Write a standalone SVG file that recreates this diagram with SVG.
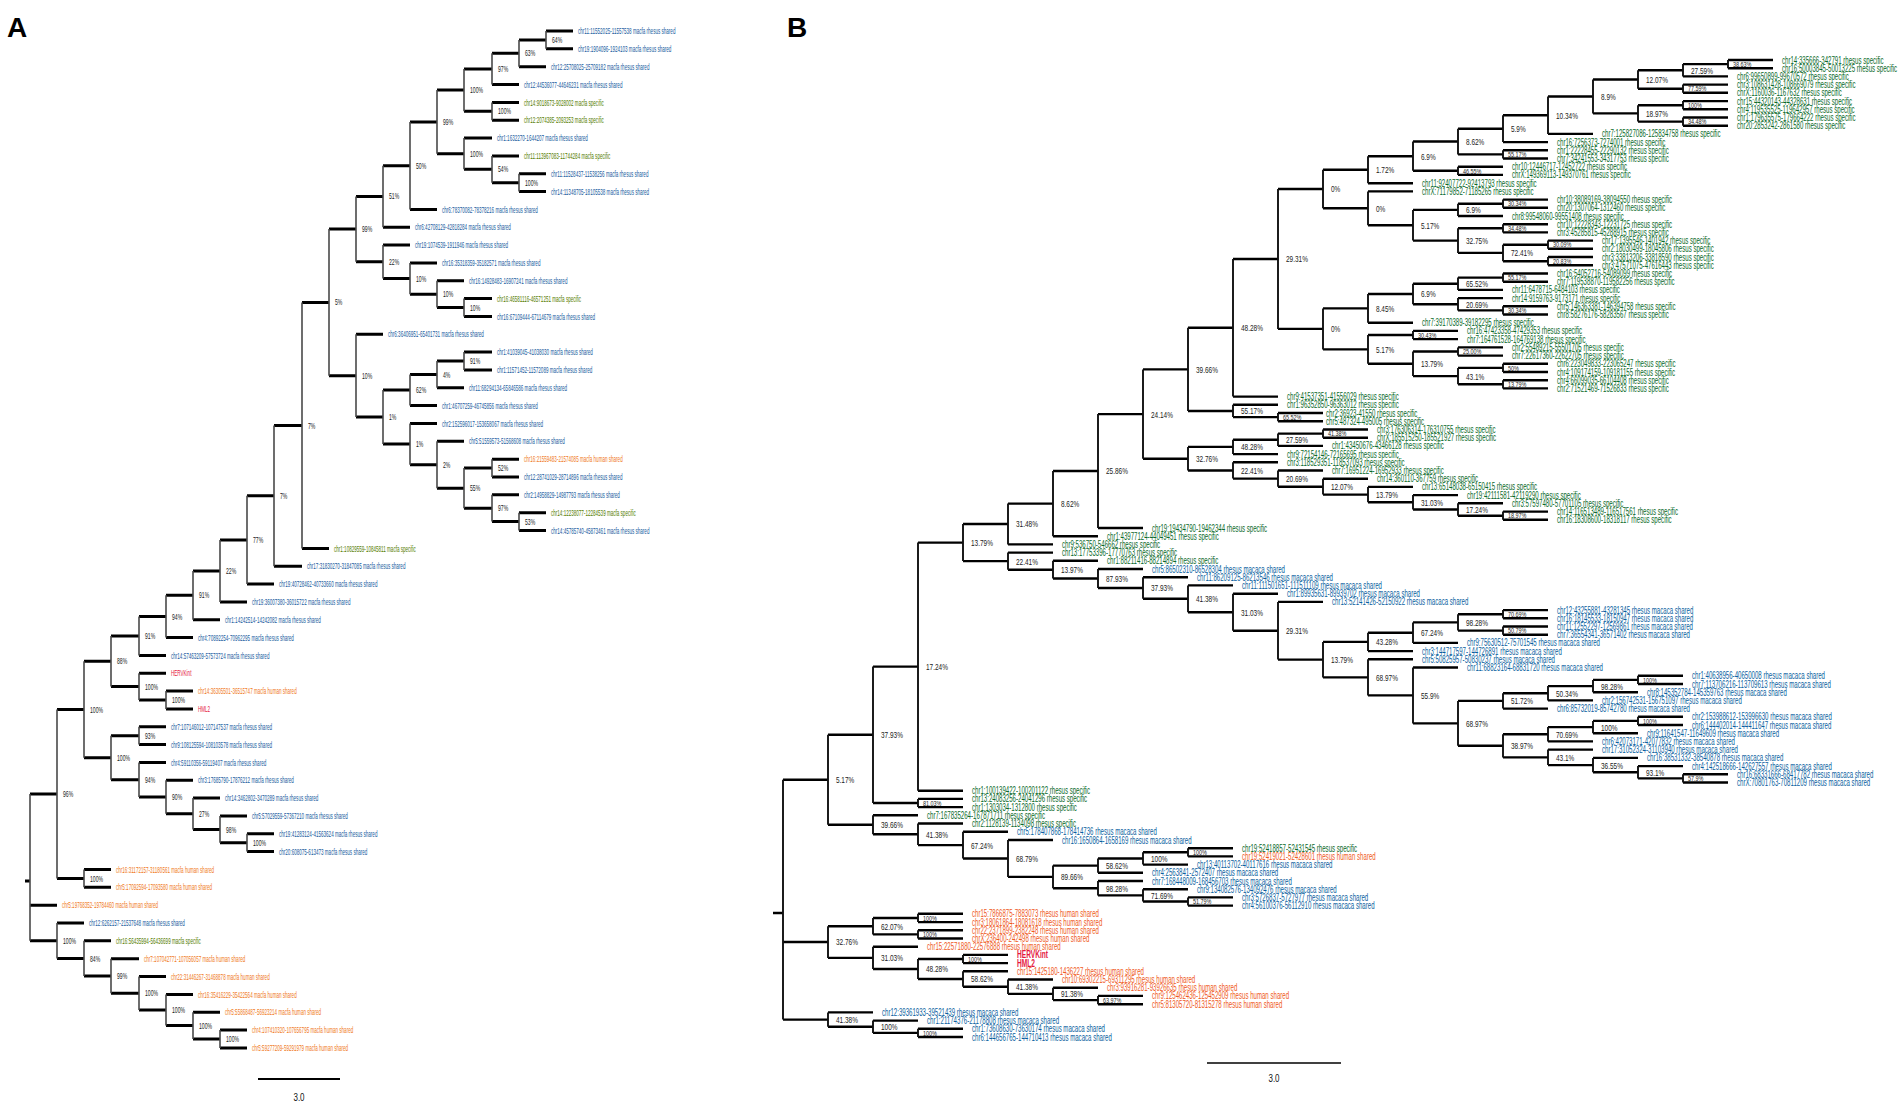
<svg xmlns="http://www.w3.org/2000/svg" width="1904" height="1104" viewBox="0 0 1904 1104">
<style>
text{font-family:"Liberation Sans",Arial,Helvetica,sans-serif;transform-box:fill-box;transform-origin:0 50%}
.big{font-size:28px;font-weight:bold;fill:#000;transform:none}
.sc{font-size:10px;fill:#111;transform:scaleX(.8);text-anchor:middle;transform-origin:50% 50%}
.ta{font-size:9.5px;transform:scaleX(.48)}
.pa{font-size:8.5px;fill:#222;transform:scaleX(.6)}
.tb{font-size:10px;transform:scaleX(.61)}
.pb{font-size:9.5px;fill:#222;transform:scaleX(.68)}
.px{font-size:8px;fill:#222;transform:scaleX(.68)}
.ba{fill:#1a5c9e}.ga{fill:#557c00}.oa{fill:#f07a1e}.r{fill:#e5173f}
.gb{fill:#0a6a2a}.bb{fill:#0b5fa0}.ob{fill:#ef5a1d}
.rb{font-size:10px;font-weight:bold;transform:scaleX(.66)}
.ha{fill:none;stroke:#000;stroke-width:3}
.va{fill:none;stroke:#4a4a4a;stroke-width:1.6}
.hb{fill:none;stroke:#000;stroke-width:2.4}
.vb{fill:none;stroke:#111;stroke-width:1.9}
.bar{fill:none;stroke:#000;stroke-width:2}
</style>
<rect width="1904" height="1104" fill="#fff"/>
<text class="big" x="7" y="37">A</text>
<text class="big" x="787" y="37">B</text>

<g id="A-connectors">
<path class="ha" d="M546 31H573M546 48.8H573M519 66.7H546M492 84.5H519M492 102.4H519M492 120.2H519M464 138H492M492 155.9H519M519 173.7H546M519 191.6H546M410 209.4H437M383 227.2H410M383 245.1H410M410 262.9H437M437 280.8H464M464 298.6H492M464 316.4H492M356 334.3H383M464 352.1H492M464 370H492M437 387.8H464M410 405.6H437M410 423.5H437M437 441.3H464M492 459.2H519M492 477H519M492 494.8H519M519 512.7H546M519 530.5H546M302 548.4H329M274 566.2H302M247 584H274M220 601.9H247M193 619.7H220M166 637.6H193M139 655.4H166M139 673.2H166M166 691.1H193M166 708.9H193M139 726.8H166M139 744.6H166M139 762.4H166M166 780.3H193M193 798.1H220M220 816H247M247 833.8H274M247 851.6H274M84 869.5H111M84 887.3H111M30 905.2H57M57 923H84M84 940.8H111M111 958.7H139M139 976.5H166M166 994.4H193M193 1012.2H220M220 1030H247M220 1047.9H247
M519 39.9H546M492 53.3H519M464 68.9H492M464 111.3H492M437 90.1H464M492 182.7H519M464 169.3H492M437 153.7H464M410 121.9H437M383 165.7H410M356 196.4H383M437 307.5H464M410 294.2H437M383 278.5H410M356 261.8H383M329 229.1H356M437 361.1H464M410 374.4H437M383 390H410M464 468.1H492M492 521.6H519M464 508.2H492M437 488.2H464M410 464.7H437M383 444.1H410M356 417.1H383M329 375.7H356M302 302.4H329M274 425.4H302M247 495.8H274M220 539.9H247M193 570.9H220M166 595.3H193M139 616.5H166M111 635.9H139M139 700H166M111 686.6H139M84 661.3H111M111 735.7H139M220 842.7H247M193 829.4H220M166 813.7H193M139 797H166M111 779.7H139M84 757.7H111M57 709.5H84M57 878.4H84M30 794H57M193 1039H220M166 1025.6H193M139 1010H166M111 993.3H139M84 976H111M57 958.4H84M30 940.7H57M25 881H30"/>
<path class="va" d="M546 31V48.8M519 39.9V66.7M492 53.3V84.5M492 102.4V120.2M464 68.9V111.3M519 173.7V191.6M492 155.9V182.7M464 138V169.3M437 90.1V153.7M410 121.9V209.4M383 165.7V227.2M464 298.6V316.4M437 280.8V307.5M410 262.9V294.2M383 245.1V278.5M356 196.4V261.8M464 352.1V370M437 361.1V387.8M410 374.4V405.6M492 459.2V477M519 512.7V530.5M492 494.8V521.6M464 468.1V508.2M437 441.3V488.2M410 423.5V464.7M383 390V444.1M356 334.3V417.1M329 229.1V375.7M302 302.4V548.4M274 425.4V566.2M247 495.8V584M220 539.9V601.9M193 570.9V619.7M166 595.3V637.6M139 616.5V655.4M166 691.1V708.9M139 673.2V700M111 635.9V686.6M139 726.8V744.6M247 833.8V851.6M220 816V842.7M193 798.1V829.4M166 780.3V813.7M139 762.4V797M111 735.7V779.7M84 661.3V757.7M84 869.5V887.3M57 709.5V878.4M220 1030V1047.9M193 1012.2V1039M166 994.4V1025.6M139 976.5V1010M111 958.7V993.3M84 940.8V976M57 923V958.4M30 794V940.7"/>
<path class="bar" d="M258 1079H340"/>
</g>
<text class="sc" x="299" y="1101">3.0</text>

<g id="A-nodes">
<g id="A-n1"><text class="pa" x="552" y="43">64%</text></g>
<g id="A-n2"><text class="pa" x="525" y="56">63%</text></g>
<g id="A-n3"><text class="pa" x="498" y="72">97%</text></g>
<g id="A-n4"><text class="pa" x="498" y="114">100%</text></g>
<g id="A-n5"><text class="pa" x="470" y="93">100%</text></g>
<g id="A-n6"><text class="pa" x="525" y="186">100%</text></g>
<g id="A-n7"><text class="pa" x="498" y="172">54%</text></g>
<g id="A-n8"><text class="pa" x="470" y="157">100%</text></g>
<g id="A-n9"><text class="pa" x="443" y="125">99%</text></g>
<g id="A-n10"><text class="pa" x="416" y="169">50%</text></g>
<g id="A-n11"><text class="pa" x="389" y="199">51%</text></g>
<g id="A-n12"><text class="pa" x="470" y="311">10%</text></g>
<g id="A-n13"><text class="pa" x="443" y="297">10%</text></g>
<g id="A-n14"><text class="pa" x="416" y="282">10%</text></g>
<g id="A-n15"><text class="pa" x="389" y="265">22%</text></g>
<g id="A-n16"><text class="pa" x="362" y="232">99%</text></g>
<g id="A-n17"><text class="pa" x="470" y="364">91%</text></g>
<g id="A-n18"><text class="pa" x="443" y="378">4%</text></g>
<g id="A-n19"><text class="pa" x="416" y="393">62%</text></g>
<g id="A-n20"><text class="pa" x="498" y="471">52%</text></g>
<g id="A-n21"><text class="pa" x="525" y="525">53%</text></g>
<g id="A-n22"><text class="pa" x="498" y="511">97%</text></g>
<g id="A-n23"><text class="pa" x="470" y="491">55%</text></g>
<g id="A-n24"><text class="pa" x="443" y="468">2%</text></g>
<g id="A-n25"><text class="pa" x="416" y="447">1%</text></g>
<g id="A-n26"><text class="pa" x="389" y="420">1%</text></g>
<g id="A-n27"><text class="pa" x="362" y="379">10%</text></g>
<g id="A-n28"><text class="pa" x="335" y="305">5%</text></g>
<g id="A-n29"><text class="pa" x="308" y="429">7%</text></g>
<g id="A-n30"><text class="pa" x="280" y="499">7%</text></g>
<g id="A-n31"><text class="pa" x="253" y="543">77%</text></g>
<g id="A-n32"><text class="pa" x="226" y="574">22%</text></g>
<g id="A-n33"><text class="pa" x="199" y="598">91%</text></g>
<g id="A-n34"><text class="pa" x="172" y="620">94%</text></g>
<g id="A-n35"><text class="pa" x="145" y="639">91%</text></g>
<g id="A-n36"><text class="pa" x="172" y="703">100%</text></g>
<g id="A-n37"><text class="pa" x="145" y="690">100%</text></g>
<g id="A-n38"><text class="pa" x="117" y="664">88%</text></g>
<g id="A-n39"><text class="pa" x="145" y="739">93%</text></g>
<g id="A-n40"><text class="pa" x="253" y="846">100%</text></g>
<g id="A-n41"><text class="pa" x="226" y="833">98%</text></g>
<g id="A-n42"><text class="pa" x="199" y="817">27%</text></g>
<g id="A-n43"><text class="pa" x="172" y="800">90%</text></g>
<g id="A-n44"><text class="pa" x="145" y="783">94%</text></g>
<g id="A-n45"><text class="pa" x="117" y="761">100%</text></g>
<g id="A-n46"><text class="pa" x="90" y="713">100%</text></g>
<g id="A-n47"><text class="pa" x="90" y="882">100%</text></g>
<g id="A-n48"><text class="pa" x="63" y="797">96%</text></g>
<g id="A-n49"><text class="pa" x="226" y="1042">100%</text></g>
<g id="A-n50"><text class="pa" x="199" y="1029">100%</text></g>
<g id="A-n51"><text class="pa" x="172" y="1013">100%</text></g>
<g id="A-n52"><text class="pa" x="145" y="996">100%</text></g>
<g id="A-n53"><text class="pa" x="117" y="979">99%</text></g>
<g id="A-n54"><text class="pa" x="90" y="962">84%</text></g>
<g id="A-n55"><text class="pa" x="63" y="944">100%</text></g>
</g>

<g id="A-leaves">
<g id="A-L0"><text class="ta ba" x="578" y="34.2">chr11:11552025-11557538 macfa rhesus shared</text></g>
<g id="A-L1"><text class="ta ba" x="578" y="52">chr19:1904096-1924103 macfa rhesus shared</text></g>
<g id="A-L2"><text class="ta ba" x="551" y="69.9">chr12:25708025-25709182 macfa rhesus shared</text></g>
<g id="A-L3"><text class="ta ba" x="524" y="87.7">chr12:44536077-44646231 macfa rhesus shared</text></g>
<g id="A-L4"><text class="ta ga" x="524" y="105.6">chr14:9018673-9028002 macfa specific</text></g>
<g id="A-L5"><text class="ta ga" x="524" y="123.4">chr12:2074385-2093253 macfa specific</text></g>
<g id="A-L6"><text class="ta ba" x="497" y="141.2">chr1:1632270-1644207 macfa rhesus shared</text></g>
<g id="A-L7"><text class="ta ga" x="524" y="159.1">chr11:113967083-11744284 macfa specific</text></g>
<g id="A-L8"><text class="ta ba" x="551" y="176.9">chr11:11528437-11538256 macfa rhesus shared</text></g>
<g id="A-L9"><text class="ta ba" x="551" y="194.8">chr14:11348705-18105538 macfa rhesus shared</text></g>
<g id="A-L10"><text class="ta ba" x="442" y="212.6">chr6:78370082-78378216 macfa rhesus shared</text></g>
<g id="A-L11"><text class="ta ba" x="415" y="230.4">chr6:42708129-42818284 macfa rhesus shared</text></g>
<g id="A-L12"><text class="ta ba" x="415" y="248.3">chr19:1074539-1911946 macfa rhesus shared</text></g>
<g id="A-L13"><text class="ta ba" x="442" y="266.1">chr16:35318359-35182571 macfa rhesus shared</text></g>
<g id="A-L14"><text class="ta ba" x="469" y="284">chr16:14928483-16907241 macfa rhesus shared</text></g>
<g id="A-L15"><text class="ta ga" x="497" y="301.8">chr16:46581116-46571251 macfa specific</text></g>
<g id="A-L16"><text class="ta ba" x="497" y="319.6">chr16:67109444-67114679 macfa rhesus shared</text></g>
<g id="A-L17"><text class="ta ba" x="388" y="337.5">chr6:36406951-65401731 macfa rhesus shared</text></g>
<g id="A-L18"><text class="ta ba" x="497" y="355.3">chr1:41039045-41038030 macfa rhesus shared</text></g>
<g id="A-L19"><text class="ta ba" x="497" y="373.2">chr1:11571452-11572089 macfa rhesus shared</text></g>
<g id="A-L20"><text class="ta ba" x="469" y="391">chr11:68294134-65846586 macfa rhesus shared</text></g>
<g id="A-L21"><text class="ta ba" x="442" y="408.8">chr1:46707259-46745856 macfa rhesus shared</text></g>
<g id="A-L22"><text class="ta ba" x="442" y="426.7">chr2:152596017-153658067 macfa rhesus shared</text></g>
<g id="A-L23"><text class="ta ba" x="469" y="444.5">chr5:51559573-51568608 macfa rhesus shared</text></g>
<g id="A-L24"><text class="ta oa" x="524" y="462.4">chr16:21559483-21574085 macfa human shared</text></g>
<g id="A-L25"><text class="ta ba" x="524" y="480.2">chr12:28741029-28714896 macfa rhesus shared</text></g>
<g id="A-L26"><text class="ta ba" x="524" y="498">chr2:14958829-14987793 macfa rhesus shared</text></g>
<g id="A-L27"><text class="ta ga" x="551" y="515.9">chr14:12238077-12284539 macfa specific</text></g>
<g id="A-L28"><text class="ta ba" x="551" y="533.7">chr14:45785740-45873461 macfa rhesus shared</text></g>
<g id="A-L29"><text class="ta ga" x="334" y="551.6">chr1:10829559-10845811 macfa specific</text></g>
<g id="A-L30"><text class="ta ba" x="307" y="569.4">chr17:31830270-31847085 macfa rhesus shared</text></g>
<g id="A-L31"><text class="ta ba" x="279" y="587.2">chr19:40728462-40733660 macfa rhesus shared</text></g>
<g id="A-L32"><text class="ta ba" x="252" y="605.1">chr19:36007380-36015722 macfa rhesus shared</text></g>
<g id="A-L33"><text class="ta ba" x="225" y="622.9">chr1:14242514-14242082 macfa rhesus shared</text></g>
<g id="A-L34"><text class="ta ba" x="198" y="640.8">chr4:70892254-70962295 macfa rhesus shared</text></g>
<g id="A-L35"><text class="ta ba" x="171" y="658.6">chr14:57463209-57573724 macfa rhesus shared</text></g>
<g id="A-L36"><text class="ta r" x="171" y="676.4">HERVKint</text></g>
<g id="A-L37"><text class="ta oa" x="198" y="694.3">chr14:36305501-36515747 macfa human shared</text></g>
<g id="A-L38"><text class="ta r" x="198" y="712.1">HML2</text></g>
<g id="A-L39"><text class="ta ba" x="171" y="730">chr7:107146012-107147537 macfa rhesus shared</text></g>
<g id="A-L40"><text class="ta ba" x="171" y="747.8">chr9:108125594-108103578 macfa rhesus shared</text></g>
<g id="A-L41"><text class="ta ba" x="171" y="765.6">chr4:59110356-59119407 macfa rhesus shared</text></g>
<g id="A-L42"><text class="ta ba" x="198" y="783.5">chr3:17685790-17876212 macfa rhesus shared</text></g>
<g id="A-L43"><text class="ta ba" x="225" y="801.3">chr14:3462802-3470289 macfa rhesus shared</text></g>
<g id="A-L44"><text class="ta ba" x="252" y="819.2">chr5:57029559-57367210 macfa rhesus shared</text></g>
<g id="A-L45"><text class="ta ba" x="279" y="837">chr19:41283124-41563624 macfa rhesus shared</text></g>
<g id="A-L46"><text class="ta ba" x="279" y="854.8">chr20:608075-613473 macfa rhesus shared</text></g>
<g id="A-L47"><text class="ta oa" x="116" y="872.7">chr16:31172157-31180561 macfa human shared</text></g>
<g id="A-L48"><text class="ta oa" x="116" y="890.5">chr5:17092594-17093580 macfa human shared</text></g>
<g id="A-L49"><text class="ta oa" x="62" y="908.4">chr5:19768352-19784460 macfa human shared</text></g>
<g id="A-L50"><text class="ta ba" x="89" y="926.2">chr12:6262157-21537648 macfa rhesus shared</text></g>
<g id="A-L51"><text class="ta ga" x="116" y="944">chr16:56435994-56436699 macfa specific</text></g>
<g id="A-L52"><text class="ta oa" x="144" y="961.9">chr7:107042771-107056057 macfa human shared</text></g>
<g id="A-L53"><text class="ta oa" x="171" y="979.7">chr22:31446267-31468878 macfa human shared</text></g>
<g id="A-L54"><text class="ta oa" x="198" y="997.6">chr16:35416229-35422564 macfa human shared</text></g>
<g id="A-L55"><text class="ta oa" x="225" y="1015.4">chr5:55868487-56923214 macfa human shared</text></g>
<g id="A-L56"><text class="ta oa" x="252" y="1033.2">chr4:107410320-107656795 macfa human shared</text></g>
<g id="A-L57"><text class="ta oa" x="252" y="1051.1">chr5:59277209-59291979 macfa human shared</text></g>
</g>

<g id="B-connectors">
<path class="hb" d="M1728 60H1773M1728 68.2H1773M1683 76.4H1728M1683 84.6H1728M1683 92.8H1728M1683 101.1H1728M1683 109.3H1728M1683 117.5H1728M1683 125.7H1728M1548 133.9H1593M1503 142.1H1548M1503 150.3H1548M1503 158.5H1548M1458 166.7H1503M1458 174.9H1503M1368 183.2H1413M1368 191.4H1413M1503 199.6H1548M1503 207.8H1548M1458 216H1503M1503 224.2H1548M1503 232.4H1548M1548 240.6H1593M1548 248.8H1593M1548 257H1593M1548 265.3H1593M1503 273.5H1548M1503 281.7H1548M1458 289.9H1503M1458 298.1H1503M1503 306.3H1548M1503 314.5H1548M1368 322.7H1413M1413 330.9H1458M1413 339.1H1458M1458 347.4H1503M1458 355.6H1503M1503 363.8H1548M1503 372H1548M1503 380.2H1548M1503 388.4H1548M1233 396.6H1278M1233 404.8H1278M1278 413H1323M1278 421.2H1323M1323 429.5H1368M1323 437.7H1368M1278 445.9H1323M1233 454.1H1278M1233 462.3H1278M1278 470.5H1323M1323 478.7H1368M1368 486.9H1413M1413 495.1H1458M1458 503.3H1503M1503 511.6H1548M1503 519.8H1548M1098 528H1143M1053 536.2H1098M1008 544.4H1053M1008 552.6H1053M1053 560.8H1098M1098 569H1143M1143 577.2H1188M1188 585.4H1233M1233 593.7H1278M1278 601.9H1323M1503 610.1H1548M1503 618.3H1548M1503 626.5H1548M1503 634.7H1548M1413 642.9H1458M1368 651.1H1413M1368 659.3H1413M1413 667.5H1458M1638 675.8H1683M1638 684H1683M1593 692.2H1638M1548 700.4H1593M1503 708.6H1548M1638 716.8H1683M1638 725H1683M1593 733.2H1638M1548 741.4H1593M1548 749.6H1593M1593 757.9H1638M1638 766.1H1683M1683 774.3H1728M1683 782.5H1728M918 790.7H963M918 798.9H963M918 807.1H963M873 815.3H918M918 823.5H963M963 831.7H1008M1008 840H1053M1188 848.2H1233M1188 856.4H1233M1143 864.6H1188M1098 872.8H1143M1098 881H1143M1143 889.2H1188M1188 897.4H1233M1188 905.6H1233M918 913.8H963M918 922.1H963M918 930.3H963M918 938.5H963M873 946.7H918M963 954.9H1008M963 963.1H1008M963 971.3H1008M1008 979.5H1053M1053 987.7H1098M1098 995.9H1143M1098 1004.2H1143M828 1012.4H873M873 1020.6H918M918 1028.8H963M918 1037H963
M1683 64.1H1728M1638 70.3H1683M1638 88.7H1683M1593 79.5H1638M1638 105.2H1683M1638 121.6H1683M1593 113.4H1638M1548 96.5H1593M1503 115.2H1548M1458 128.7H1503M1458 154.4H1503M1413 141.5H1458M1413 170.8H1458M1368 156.2H1413M1323 169.7H1368M1323 208.3H1368M1368 225.2H1413M1413 209.9H1458M1458 203.7H1503M1413 240.6H1458M1458 228.3H1503M1458 252.9H1503M1503 244.7H1548M1503 261.2H1548M1278 189H1323M1323 308.4H1368M1368 294H1413M1413 283.8H1458M1458 277.6H1503M1413 304.3H1458M1458 310.4H1503M1323 349.4H1368M1368 335H1413M1368 363.8H1413M1413 351.5H1458M1413 376.1H1458M1458 367.9H1503M1458 384.3H1503M1278 328.9H1323M1233 259H1278M1188 327.8H1233M1188 411H1233M1233 417.1H1278M1143 369.4H1188M1188 446.9H1233M1233 439.8H1278M1278 433.6H1323M1188 470.5H1233M1233 478.6H1278M1278 486.7H1323M1323 494.6H1368M1368 502.3H1413M1413 509.5H1458M1458 515.7H1503M1143 458.7H1188M1098 414.1H1143M1053 471H1098M1008 503.6H1053M963 524H1008M963 561.1H1008M1008 569.7H1053M1053 578.5H1098M1098 588H1143M1143 598.8H1188M1188 612.2H1233M1233 630.8H1278M1278 659.6H1323M1323 641.9H1368M1368 632.7H1413M1413 622.4H1458M1458 614.2H1503M1458 630.6H1503M1323 677.4H1368M1368 695.4H1413M1413 723.4H1458M1458 700.9H1503M1503 693.2H1548M1548 686.1H1593M1593 679.9H1638M1458 745.8H1503M1503 734.2H1548M1548 727.1H1593M1593 720.9H1638M1503 757.4H1548M1548 765.1H1593M1593 772.3H1638M1638 778.4H1683M918 542.6H963M873 666.6H918M873 803H918M828 734.8H873M828 824.8H873M873 834.3H918M918 845.1H963M963 858.5H1008M1008 876.9H1053M1053 865.6H1098M1098 858.5H1143M1143 852.3H1188M1053 888.2H1098M1098 895.4H1143M1143 901.5H1188M783 779.8H828M828 926.2H873M873 918H918M873 934.4H918M828 957.9H873M873 969H918M918 959H963M918 979H963M963 986.7H1008M1008 993.9H1053M1053 1000.1H1098M783 942H828M783 1019.6H828M828 1026.8H873M873 1032.9H918M773 913H783"/>
<path class="vb" d="M1728 60V68.2M1683 64.1V76.4M1683 84.6V92.8M1638 70.3V88.7M1683 101.1V109.3M1683 117.5V125.7M1638 105.2V121.6M1593 79.5V113.4M1548 96.5V133.9M1503 115.2V142.1M1503 150.3V158.5M1458 128.7V154.4M1458 166.7V174.9M1413 141.5V170.8M1368 156.2V183.2M1503 199.6V207.8M1458 203.7V216M1503 224.2V232.4M1548 240.6V248.8M1548 257V265.3M1503 244.7V261.2M1458 228.3V252.9M1413 209.9V240.6M1368 191.4V225.2M1323 169.7V208.3M1503 273.5V281.7M1458 277.6V289.9M1503 306.3V314.5M1458 298.1V310.4M1413 283.8V304.3M1368 294V322.7M1413 330.9V339.1M1458 347.4V355.6M1503 363.8V372M1503 380.2V388.4M1458 367.9V384.3M1413 351.5V376.1M1368 335V363.8M1323 308.4V349.4M1278 189V328.9M1233 259V396.6M1278 413V421.2M1233 404.8V417.1M1188 327.8V411M1323 429.5V437.7M1278 433.6V445.9M1233 439.8V454.1M1503 511.6V519.8M1458 503.3V515.7M1413 495.1V509.5M1368 486.9V502.3M1323 478.7V494.6M1278 470.5V486.7M1233 462.3V478.6M1188 446.9V470.5M1143 369.4V458.7M1098 414.1V528M1053 471V536.2M1008 503.6V544.4M1503 610.1V618.3M1503 626.5V634.7M1458 614.2V630.6M1413 622.4V642.9M1368 632.7V651.1M1638 675.8V684M1593 679.9V692.2M1548 686.1V700.4M1503 693.2V708.6M1638 716.8V725M1593 720.9V733.2M1548 727.1V741.4M1683 774.3V782.5M1638 766.1V778.4M1593 757.9V772.3M1548 749.6V765.1M1503 734.2V757.4M1458 700.9V745.8M1413 667.5V723.4M1368 659.3V695.4M1323 641.9V677.4M1278 601.9V659.6M1233 593.7V630.8M1188 585.4V612.2M1143 577.2V598.8M1098 569V588M1053 560.8V578.5M1008 552.6V569.7M963 524V561.1M918 542.6V790.7M918 798.9V807.1M873 666.6V803M1188 848.2V856.4M1143 852.3V864.6M1098 858.5V872.8M1188 897.4V905.6M1143 889.2V901.5M1098 881V895.4M1053 865.6V888.2M1008 840V876.9M963 831.7V858.5M918 823.5V845.1M873 815.3V834.3M828 734.8V824.8M918 913.8V922.1M918 930.3V938.5M873 918V934.4M963 954.9V963.1M1098 995.9V1004.2M1053 987.7V1000.1M1008 979.5V993.9M963 971.3V986.7M918 959V979M873 946.7V969M828 926.2V957.9M918 1028.8V1037M873 1020.6V1032.9M828 1012.4V1026.8M783 779.8V1019.6"/>
<path class="bar" d="M1207 1063H1341" style="stroke-width:1.5"/>
</g>
<text class="sc" x="1274" y="1082">3.0</text>

<g id="B-nodes">
<g id="B-na"><text class="px" x="1733" y="66.9">38.63%</text></g>
<g id="B-nb"><text class="pb" x="1691" y="73.8">27.59%</text></g>
<g id="B-nc"><text class="px" x="1688" y="91.5">77.59%</text></g>
<g id="B-nd"><text class="pb" x="1646" y="83">12.07%</text></g>
<g id="B-ne"><text class="px" x="1688" y="108">100%</text></g>
<g id="B-nf"><text class="px" x="1688" y="124.4">34.48%</text></g>
<g id="B-ng"><text class="pb" x="1646" y="116.9">18.97%</text></g>
<g id="B-nh"><text class="pb" x="1601" y="100">8.9%</text></g>
<g id="B-ni"><text class="pb" x="1556" y="118.7">10.34%</text></g>
<g id="B-nj"><text class="pb" x="1511" y="132.2">5.9%</text></g>
<g id="B-nk"><text class="px" x="1508" y="157.2">55.17%</text></g>
<g id="B-nl"><text class="pb" x="1466" y="145">8.62%</text></g>
<g id="B-nm"><text class="px" x="1463" y="173.6">46.55%</text></g>
<g id="B-nn"><text class="pb" x="1421" y="159.7">6.9%</text></g>
<g id="B-no"><text class="pb" x="1376" y="173.2">1.72%</text></g>
<g id="B-np"><text class="px" x="1508" y="206.5">30.34%</text></g>
<g id="B-nq"><text class="pb" x="1466" y="213.4">6.9%</text></g>
<g id="B-nr"><text class="px" x="1508" y="231.1">34.48%</text></g>
<g id="B-ns"><text class="px" x="1553" y="247.5">30.09%</text></g>
<g id="B-nt"><text class="px" x="1553" y="264">20.83%</text></g>
<g id="B-nu"><text class="pb" x="1511" y="256.4">72.41%</text></g>
<g id="B-nv"><text class="pb" x="1466" y="244.1">32.75%</text></g>
<g id="B-nw"><text class="pb" x="1421" y="228.7">5.17%</text></g>
<g id="B-nx"><text class="pb" x="1376" y="211.8">0%</text></g>
<g id="B-ny"><text class="pb" x="1331" y="192.5">0%</text></g>
<g id="B-nz"><text class="px" x="1508" y="280.4">55.17%</text></g>
<g id="B-naa"><text class="pb" x="1466" y="287.3">65.52%</text></g>
<g id="B-nab"><text class="px" x="1508" y="313.2">30.34%</text></g>
<g id="B-nac"><text class="pb" x="1466" y="307.8">20.69%</text></g>
<g id="B-nad"><text class="pb" x="1421" y="297.5">6.9%</text></g>
<g id="B-nae"><text class="pb" x="1376" y="311.9">8.45%</text></g>
<g id="B-naf"><text class="px" x="1418" y="337.8">30.43%</text></g>
<g id="B-nag"><text class="px" x="1463" y="354.3">25.00%</text></g>
<g id="B-nah"><text class="px" x="1508" y="370.7">50%</text></g>
<g id="B-nai"><text class="px" x="1508" y="387.1">13.79%</text></g>
<g id="B-naj"><text class="pb" x="1466" y="379.6">43.1%</text></g>
<g id="B-nak"><text class="pb" x="1421" y="367.3">13.79%</text></g>
<g id="B-nal"><text class="pb" x="1376" y="352.9">5.17%</text></g>
<g id="B-nam"><text class="pb" x="1331" y="332.4">0%</text></g>
<g id="B-nan"><text class="pb" x="1286" y="262.5">29.31%</text></g>
<g id="B-nao"><text class="pb" x="1241" y="331.3">48.28%</text></g>
<g id="B-nap"><text class="px" x="1283" y="419.9">65.52%</text></g>
<g id="B-naq"><text class="pb" x="1241" y="414.5">55.17%</text></g>
<g id="B-nar"><text class="pb" x="1196" y="372.9">39.66%</text></g>
<g id="B-nas"><text class="px" x="1328" y="436.4">41.38%</text></g>
<g id="B-nat"><text class="pb" x="1286" y="443.3">27.59%</text></g>
<g id="B-nau"><text class="pb" x="1241" y="450.4">48.28%</text></g>
<g id="B-nav"><text class="px" x="1508" y="518.5">18.97%</text></g>
<g id="B-naw"><text class="pb" x="1466" y="513">17.24%</text></g>
<g id="B-nax"><text class="pb" x="1421" y="505.8">31.03%</text></g>
<g id="B-nay"><text class="pb" x="1376" y="498.1">13.79%</text></g>
<g id="B-naz"><text class="pb" x="1331" y="490.2">12.07%</text></g>
<g id="B-nba"><text class="pb" x="1286" y="482.1">20.69%</text></g>
<g id="B-nbb"><text class="pb" x="1241" y="474">22.41%</text></g>
<g id="B-nbc"><text class="pb" x="1196" y="462.2">32.76%</text></g>
<g id="B-nbd"><text class="pb" x="1151" y="417.6">24.14%</text></g>
<g id="B-nbe"><text class="pb" x="1106" y="474.5">25.86%</text></g>
<g id="B-nbf"><text class="pb" x="1061" y="507.1">8.62%</text></g>
<g id="B-nbg"><text class="pb" x="1016" y="527.5">31.48%</text></g>
<g id="B-nci"><text class="pb" x="1016" y="564.6">22.41%</text></g>
<g id="B-nch"><text class="pb" x="1061" y="573.2">13.97%</text></g>
<g id="B-ncg"><text class="pb" x="1106" y="582">87.93%</text></g>
<g id="B-ncf"><text class="pb" x="1151" y="591.5">37.93%</text></g>
<g id="B-nce"><text class="pb" x="1196" y="602.3">41.38%</text></g>
<g id="B-ncd"><text class="pb" x="1241" y="615.7">31.03%</text></g>
<g id="B-ncc"><text class="pb" x="1286" y="634.3">29.31%</text></g>
<g id="B-ncb"><text class="pb" x="1331" y="663.1">13.79%</text></g>
<g id="B-nbl"><text class="pb" x="1376" y="645.4">43.28%</text></g>
<g id="B-nbk"><text class="pb" x="1421" y="636.2">67.24%</text></g>
<g id="B-nbj"><text class="pb" x="1466" y="625.9">98.28%</text></g>
<g id="B-nbh"><text class="px" x="1508" y="617">70.69%</text></g>
<g id="B-nbi"><text class="px" x="1508" y="633.4">50.79%</text></g>
<g id="B-nca"><text class="pb" x="1376" y="680.9">68.97%</text></g>
<g id="B-nbz"><text class="pb" x="1421" y="698.9">55.9%</text></g>
<g id="B-nby"><text class="pb" x="1466" y="726.9">68.97%</text></g>
<g id="B-nbp"><text class="pb" x="1511" y="704.4">51.72%</text></g>
<g id="B-nbo"><text class="pb" x="1556" y="696.7">50.34%</text></g>
<g id="B-nbn"><text class="pb" x="1601" y="689.6">98.28%</text></g>
<g id="B-nbm"><text class="px" x="1643" y="682.7">100%</text></g>
<g id="B-nbx"><text class="pb" x="1511" y="749.3">38.97%</text></g>
<g id="B-nbs"><text class="pb" x="1556" y="737.7">70.69%</text></g>
<g id="B-nbr"><text class="pb" x="1601" y="730.6">100%</text></g>
<g id="B-nbq"><text class="px" x="1643" y="723.7">100%</text></g>
<g id="B-nbw"><text class="pb" x="1556" y="760.9">43.1%</text></g>
<g id="B-nbv"><text class="pb" x="1601" y="768.6">36.55%</text></g>
<g id="B-nbu"><text class="pb" x="1646" y="775.8">93.1%</text></g>
<g id="B-nbt"><text class="px" x="1688" y="781.2">57.9%</text></g>
<g id="B-ncj"><text class="pb" x="971" y="546.1">13.79%</text></g>
<g id="B-nck"><text class="pb" x="926" y="670.1">17.24%</text></g>
<g id="B-ncl"><text class="px" x="923" y="805.8">81.03%</text></g>
<g id="B-ncm"><text class="pb" x="881" y="738.3">37.93%</text></g>
<g id="B-ncx"><text class="pb" x="881" y="828.3">39.66%</text></g>
<g id="B-ncw"><text class="pb" x="926" y="837.8">41.38%</text></g>
<g id="B-ncv"><text class="pb" x="971" y="848.6">67.24%</text></g>
<g id="B-ncu"><text class="pb" x="1016" y="862">68.79%</text></g>
<g id="B-nct"><text class="pb" x="1061" y="880.4">89.66%</text></g>
<g id="B-ncp"><text class="pb" x="1106" y="869.1">58.62%</text></g>
<g id="B-nco"><text class="pb" x="1151" y="862">100%</text></g>
<g id="B-ncn"><text class="px" x="1193" y="855.1">100%</text></g>
<g id="B-ncs"><text class="pb" x="1106" y="891.7">98.28%</text></g>
<g id="B-ncr"><text class="pb" x="1151" y="898.9">71.69%</text></g>
<g id="B-ncq"><text class="px" x="1193" y="904.3">51.79%</text></g>
<g id="B-ncy"><text class="pb" x="836" y="783.3">5.17%</text></g>
<g id="B-ndb"><text class="pb" x="881" y="929.7">62.07%</text></g>
<g id="B-ncz"><text class="px" x="923" y="920.8">100%</text></g>
<g id="B-nda"><text class="px" x="923" y="937.2">100%</text></g>
<g id="B-ndi"><text class="pb" x="881" y="961.4">31.03%</text></g>
<g id="B-ndh"><text class="pb" x="926" y="972.5">48.28%</text></g>
<g id="B-ndc"><text class="px" x="968" y="961.8">100%</text></g>
<g id="B-ndg"><text class="pb" x="971" y="982.5">58.62%</text></g>
<g id="B-ndf"><text class="pb" x="1016" y="990.2">41.38%</text></g>
<g id="B-nde"><text class="pb" x="1061" y="997.4">91.38%</text></g>
<g id="B-ndd"><text class="px" x="1103" y="1002.9">63.97%</text></g>
<g id="B-ndj"><text class="pb" x="836" y="945.5">32.76%</text></g>
<g id="B-ndm"><text class="pb" x="836" y="1023.1">41.38%</text></g>
<g id="B-ndl"><text class="pb" x="881" y="1030.3">100%</text></g>
<g id="B-ndk"><text class="px" x="923" y="1035.7">100%</text></g>
</g>

<g id="B-leaves">
<g id="B-L0"><text class="tb gb" x="1782" y="63.6">chr14:335666-342791 rhesus specific</text></g>
<g id="B-L1"><text class="tb gb" x="1782" y="71.8">chr16:50003845-50013225 rhesus specific</text></g>
<g id="B-L2"><text class="tb gb" x="1737" y="80">chr6:99650899-99670572 rhesus specific</text></g>
<g id="B-L3"><text class="tb gb" x="1737" y="88.2">chr3:108631428-108669079 rhesus specific</text></g>
<g id="B-L4"><text class="tb gb" x="1737" y="96.4">chrX:1160036-1167632 rhesus specific</text></g>
<g id="B-L5"><text class="tb gb" x="1737" y="104.7">chr15:44320143-44328631 rhesus specific</text></g>
<g id="B-L6"><text class="tb gb" x="1737" y="112.9">chr4:119535525-119642957 rhesus specific</text></g>
<g id="B-L7"><text class="tb gb" x="1737" y="121.1">chr1:179635575-179664222 rhesus specific</text></g>
<g id="B-L8"><text class="tb gb" x="1737" y="129.3">chr20:2853242-2861580 rhesus specific</text></g>
<g id="B-L9"><text class="tb gb" x="1602" y="137.5">chr7:125827086-125834758 rhesus specific</text></g>
<g id="B-L10"><text class="tb gb" x="1557" y="145.7">chr16:7256373-7274001 rhesus specific</text></g>
<g id="B-L11"><text class="tb gb" x="1557" y="153.9">chr1:22228455-22290132 rhesus specific</text></g>
<g id="B-L12"><text class="tb gb" x="1557" y="162.1">chr7:34241553-34317753 rhesus specific</text></g>
<g id="B-L13"><text class="tb gb" x="1512" y="170.3">chr10:12446717-12452722 rhesus specific</text></g>
<g id="B-L14"><text class="tb gb" x="1512" y="178.5">chrX:149369113-149370761 rhesus specific</text></g>
<g id="B-L15"><text class="tb gb" x="1422" y="186.8">chr11:92407722-92413793 rhesus specific</text></g>
<g id="B-L16"><text class="tb gb" x="1422" y="195">chrX:71179852-71185265 rhesus specific</text></g>
<g id="B-L17"><text class="tb gb" x="1557" y="203.2">chr10:38089169-38094550 rhesus specific</text></g>
<g id="B-L18"><text class="tb gb" x="1557" y="211.4">chr20:1307064-1312460 rhesus specific</text></g>
<g id="B-L19"><text class="tb gb" x="1512" y="219.6">chr8:99548060-99551408 rhesus specific</text></g>
<g id="B-L20"><text class="tb gb" x="1557" y="227.8">chr10:12228343-12231725 rhesus specific</text></g>
<g id="B-L21"><text class="tb gb" x="1557" y="236">chr3:45285815-45288915 rhesus specific</text></g>
<g id="B-L22"><text class="tb gb" x="1602" y="244.2">chr17:1395546-1401942 rhesus specific</text></g>
<g id="B-L23"><text class="tb gb" x="1602" y="252.4">chr2:18030499-18045806 rhesus specific</text></g>
<g id="B-L24"><text class="tb gb" x="1602" y="260.6">chr3:33813206-33818590 rhesus specific</text></g>
<g id="B-L25"><text class="tb gb" x="1602" y="268.9">chr3:47571075-47616443 rhesus specific</text></g>
<g id="B-L26"><text class="tb gb" x="1557" y="277.1">chr16:54052716-54089099 rhesus specific</text></g>
<g id="B-L27"><text class="tb gb" x="1557" y="285.3">chr7:119538870-119582256 rhesus specific</text></g>
<g id="B-L28"><text class="tb gb" x="1512" y="293.5">chr11:6478715-6484103 rhesus specific</text></g>
<g id="B-L29"><text class="tb gb" x="1512" y="301.7">chr14:9159763-9173171 rhesus specific</text></g>
<g id="B-L30"><text class="tb gb" x="1557" y="309.9">chr5:146363381-146394758 rhesus specific</text></g>
<g id="B-L31"><text class="tb gb" x="1557" y="318.1">chr8:58276176-58283567 rhesus specific</text></g>
<g id="B-L32"><text class="tb gb" x="1422" y="326.3">chr7:39170389-39182295 rhesus specific</text></g>
<g id="B-L33"><text class="tb gb" x="1467" y="334.5">chr16:47423358-47429353 rhesus specific</text></g>
<g id="B-L34"><text class="tb gb" x="1467" y="342.7">chr7:164761528-164769138 rhesus specific</text></g>
<g id="B-L35"><text class="tb gb" x="1512" y="351">chr2:55489215-55501705 rhesus specific</text></g>
<g id="B-L36"><text class="tb gb" x="1512" y="359.2">chr7:22617360-22622705 rhesus specific</text></g>
<g id="B-L37"><text class="tb gb" x="1557" y="367.4">chr6:223049833-223065247 rhesus specific</text></g>
<g id="B-L38"><text class="tb gb" x="1557" y="375.6">chr4:109174159-109181155 rhesus specific</text></g>
<g id="B-L39"><text class="tb gb" x="1557" y="383.8">chr4:66099035-66104408 rhesus specific</text></g>
<g id="B-L40"><text class="tb gb" x="1557" y="392">chr2:71521469-71526833 rhesus specific</text></g>
<g id="B-L41"><text class="tb gb" x="1287" y="400.2">chr9:41537351-41556029 rhesus specific</text></g>
<g id="B-L42"><text class="tb gb" x="1287" y="408.4">chr1:96352850-96363012 rhesus specific</text></g>
<g id="B-L43"><text class="tb gb" x="1326" y="416.6">chr2:36923-41550 rhesus specific</text></g>
<g id="B-L44"><text class="tb gb" x="1326" y="424.8">chr5:487324-495005 rhesus specific</text></g>
<g id="B-L45"><text class="tb gb" x="1377" y="433.1">chr3:176306314-176310755 rhesus specific</text></g>
<g id="B-L46"><text class="tb gb" x="1377" y="441.3">chrX:185515250-185521927 rhesus specific</text></g>
<g id="B-L47"><text class="tb gb" x="1332" y="449.5">chr1:43450676-43466128 rhesus specific</text></g>
<g id="B-L48"><text class="tb gb" x="1287" y="457.7">chr9:72154146-72165695 rhesus specific</text></g>
<g id="B-L49"><text class="tb gb" x="1287" y="465.9">chr3:118529351-118537093 rhesus specific</text></g>
<g id="B-L50"><text class="tb gb" x="1332" y="474.1">chr7:16951224-16952933 rhesus specific</text></g>
<g id="B-L51"><text class="tb gb" x="1377" y="482.3">chr14:360110-367759 rhesus specific</text></g>
<g id="B-L52"><text class="tb gb" x="1422" y="490.5">chr13:65148038-65150415 rhesus specific</text></g>
<g id="B-L53"><text class="tb gb" x="1467" y="498.7">chr19:42111581-42119290 rhesus specific</text></g>
<g id="B-L54"><text class="tb gb" x="1512" y="506.9">chr3:57597480-57701105 rhesus specific</text></g>
<g id="B-L55"><text class="tb gb" x="1557" y="515.2">chr14:116513489-116517561 rhesus specific</text></g>
<g id="B-L56"><text class="tb gb" x="1557" y="523.4">chr16:18308600-18318117 rhesus specific</text></g>
<g id="B-L57"><text class="tb gb" x="1152" y="531.6">chr19:19434790-19462344 rhesus specific</text></g>
<g id="B-L58"><text class="tb gb" x="1107" y="539.8">chr1:43977124-44049451 rhesus specific</text></g>
<g id="B-L59"><text class="tb gb" x="1062" y="548">chr9:536750-546662 rhesus specific</text></g>
<g id="B-L60"><text class="tb gb" x="1062" y="556.2">chr13:17753396-17770763 rhesus specific</text></g>
<g id="B-L61"><text class="tb gb" x="1107" y="564.4">chr1:88211416-88214894 rhesus specific</text></g>
<g id="B-L62"><text class="tb bb" x="1152" y="572.6">chr5:86502310-86528304 rhesus macaca shared</text></g>
<g id="B-L63"><text class="tb bb" x="1197" y="580.8">chr11:86209125-86213546 rhesus macaca shared</text></g>
<g id="B-L64"><text class="tb bb" x="1242" y="589">chr11:111501651-111511109 rhesus macaca shared</text></g>
<g id="B-L65"><text class="tb bb" x="1287" y="597.3">chr1:89935631-89939702 rhesus macaca shared</text></g>
<g id="B-L66"><text class="tb bb" x="1332" y="605.5">chr13:52141426-52150922 rhesus macaca shared</text></g>
<g id="B-L67"><text class="tb bb" x="1557" y="613.7">chr12:43255881-43281345 rhesus macaca shared</text></g>
<g id="B-L68"><text class="tb bb" x="1557" y="621.9">chr16:18145533-18150947 rhesus macaca shared</text></g>
<g id="B-L69"><text class="tb bb" x="1557" y="630.1">chr11:12552297-12569861 rhesus macaca shared</text></g>
<g id="B-L70"><text class="tb bb" x="1557" y="638.3">chr7:36554341-36571402 rhesus macaca shared</text></g>
<g id="B-L71"><text class="tb bb" x="1467" y="646.5">chr9:75630512-75701545 rhesus macaca shared</text></g>
<g id="B-L72"><text class="tb bb" x="1422" y="654.7">chr3:144717597-144726891 rhesus macaca shared</text></g>
<g id="B-L73"><text class="tb bb" x="1422" y="662.9">chr5:50825957-50830237 rhesus macaca shared</text></g>
<g id="B-L74"><text class="tb bb" x="1467" y="671.1">chr11:68823164-68831720 rhesus macaca shared</text></g>
<g id="B-L75"><text class="tb bb" x="1692" y="679.4">chr1:40638956-40650008 rhesus macaca shared</text></g>
<g id="B-L76"><text class="tb bb" x="1692" y="687.6">chr7:113706216-113709613 rhesus macaca shared</text></g>
<g id="B-L77"><text class="tb bb" x="1647" y="695.8">chr8:145352784-145359763 rhesus macaca shared</text></g>
<g id="B-L78"><text class="tb bb" x="1602" y="704">chr2:156742531-156751097 rhesus macaca shared</text></g>
<g id="B-L79"><text class="tb bb" x="1557" y="712.2">chr6:85732019-85742780 rhesus macaca shared</text></g>
<g id="B-L80"><text class="tb bb" x="1692" y="720.4">chr2:153988612-153996630 rhesus macaca shared</text></g>
<g id="B-L81"><text class="tb bb" x="1692" y="728.6">chr6:144402014-144411647 rhesus macaca shared</text></g>
<g id="B-L82"><text class="tb bb" x="1647" y="736.8">chr9:11641547-11649609 rhesus macaca shared</text></g>
<g id="B-L83"><text class="tb bb" x="1602" y="745">chr6:42073171-42077832 rhesus macaca shared</text></g>
<g id="B-L84"><text class="tb bb" x="1602" y="753.2">chr17:31052324-31103940 rhesus macaca shared</text></g>
<g id="B-L85"><text class="tb bb" x="1647" y="761.5">chr16:38531332-38540878 rhesus macaca shared</text></g>
<g id="B-L86"><text class="tb bb" x="1692" y="769.7">chr4:142518666-142627557 rhesus macaca shared</text></g>
<g id="B-L87"><text class="tb bb" x="1737" y="777.9">chr16:68331666-68417782 rhesus macaca shared</text></g>
<g id="B-L88"><text class="tb bb" x="1737" y="786.1">chrX:70801763-70811209 rhesus macaca shared</text></g>
<g id="B-L89"><text class="tb gb" x="972" y="794.3">chr1:100139422-100201122 rhesus specific</text></g>
<g id="B-L90"><text class="tb gb" x="972" y="802.5">chr13:24083256-24041296 rhesus specific</text></g>
<g id="B-L91"><text class="tb gb" x="972" y="810.7">chr1:1303034-1312800 rhesus specific</text></g>
<g id="B-L92"><text class="tb gb" x="927" y="818.9">chr7:167835264-167871711 rhesus specific</text></g>
<g id="B-L93"><text class="tb gb" x="972" y="827.1">chr2:1128139-1134098 rhesus specific</text></g>
<g id="B-L94"><text class="tb bb" x="1017" y="835.3">chr5:178407868-178414736 rhesus macaca shared</text></g>
<g id="B-L95"><text class="tb bb" x="1062" y="843.6">chr16:1650864-1658169 rhesus macaca shared</text></g>
<g id="B-L96"><text class="tb gb" x="1242" y="851.8">chr19:52418857-52431545 rhesus specific</text></g>
<g id="B-L97"><text class="tb ob" x="1242" y="860">chr19:52419021-52428601 rhesus human shared</text></g>
<g id="B-L98"><text class="tb bb" x="1197" y="868.2">chr13:40113702-40117616 rhesus macaca shared</text></g>
<g id="B-L99"><text class="tb bb" x="1152" y="876.4">chr4:2563841-2572407 rhesus macaca shared</text></g>
<g id="B-L100"><text class="tb bb" x="1152" y="884.6">chr7:168448009-168456703 rhesus macaca shared</text></g>
<g id="B-L101"><text class="tb bb" x="1197" y="892.8">chr9:134082576-134092476 rhesus macaca shared</text></g>
<g id="B-L102"><text class="tb bb" x="1242" y="901">chr3:5726837-5727977 rhesus macaca shared</text></g>
<g id="B-L103"><text class="tb bb" x="1242" y="909.2">chr4:56100376-56112910 rhesus macaca shared</text></g>
<g id="B-L104"><text class="tb ob" x="972" y="917.4">chr15:7866875-7883073 rhesus human shared</text></g>
<g id="B-L105"><text class="tb ob" x="972" y="925.7">chr3:18061864-18081618 rhesus human shared</text></g>
<g id="B-L106"><text class="tb ob" x="972" y="933.9">chr22:2371899-2382248 rhesus human shared</text></g>
<g id="B-L107"><text class="tb ob" x="972" y="942.1">chrX:236400-242498 rhesus human shared</text></g>
<g id="B-L108"><text class="tb ob" x="927" y="950.3">chr15:22571880-22576888 rhesus human shared</text></g>
<g id="B-L109"><text class="r rb" x="1017" y="958.4">HERVKint</text></g>
<g id="B-L110"><text class="r rb" x="1017" y="966.8">HML2</text></g>
<g id="B-L111"><text class="tb ob" x="1017" y="974.9">chr15:1425180-1436227 rhesus human shared</text></g>
<g id="B-L112"><text class="tb ob" x="1062" y="983.1">chr10:69302215-69311295 rhesus human shared</text></g>
<g id="B-L113"><text class="tb ob" x="1107" y="991.3">chr3:93916281-93926635 rhesus human shared</text></g>
<g id="B-L114"><text class="tb ob" x="1152" y="999.5">chr9:125462436-125452909 rhesus human shared</text></g>
<g id="B-L115"><text class="tb ob" x="1152" y="1007.8">chr5:81305720-81315278 rhesus human shared</text></g>
<g id="B-L116"><text class="tb bb" x="882" y="1016">chr12:39361933-39521439 rhesus macaca shared</text></g>
<g id="B-L117"><text class="tb bb" x="927" y="1024.2">chr1:21174376-21178808 rhesus macaca shared</text></g>
<g id="B-L118"><text class="tb bb" x="972" y="1032.4">chr1:73608630-73630174 rhesus macaca shared</text></g>
<g id="B-L119"><text class="tb bb" x="972" y="1040.6">chr6:144656765-144710413 rhesus macaca shared</text></g>
</g>
</svg>
